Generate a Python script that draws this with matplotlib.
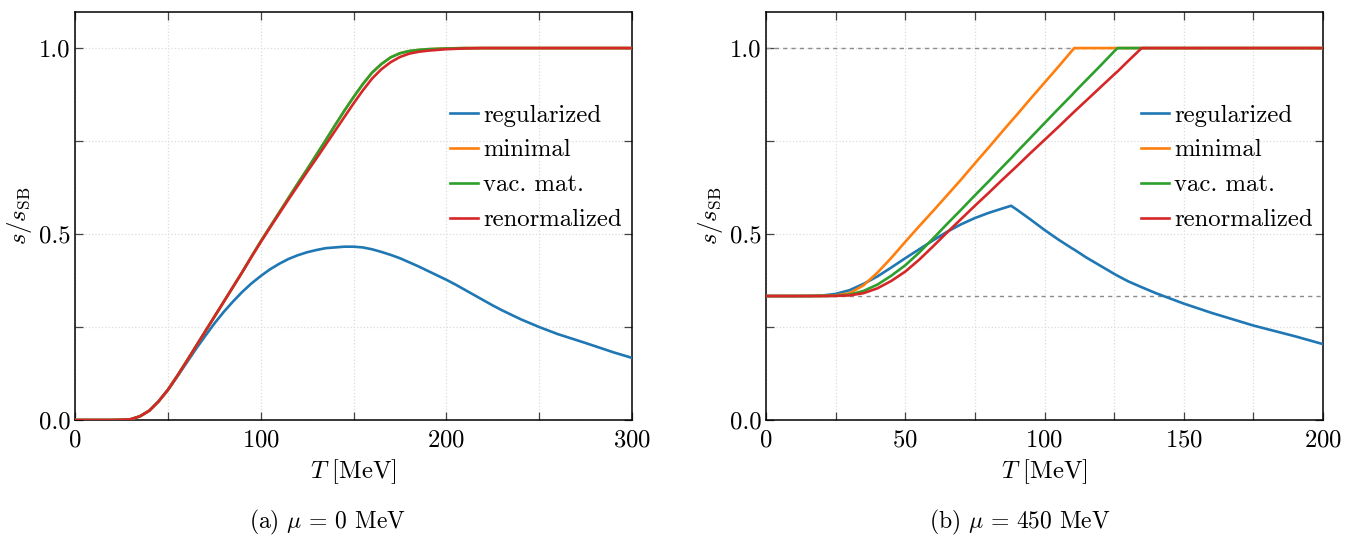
import matplotlib
matplotlib.use("Agg")
import matplotlib.pyplot as plt
from matplotlib.ticker import MultipleLocator, FormatStrFormatter

plt.rcParams['font.family'] = 'serif'
plt.rcParams['font.serif'] = ['cmr10']
plt.rcParams['mathtext.fontset'] = 'cm'
plt.rcParams['axes.formatter.use_mathtext'] = True
plt.rcParams['axes.unicode_minus'] = False

labels = ['regularized', 'minimal', 'vac. mat.', 'renormalized']
colors = ['#1f77b4', '#ff7f0e', '#2ca02c', '#d62728']

# (a) mu = 0 MeV
T_a = [0, 10, 20,
       25, 30, 35, 40, 45, 50, 55, 60, 65, 70, 75, 80, 85, 90, 95, 100,
       105, 110, 115, 120, 125, 130, 135, 140, 145, 150, 155, 160, 165, 170,
       175, 180, 185, 190, 195, 200, 205, 210, 215, 220, 225, 230,
       240, 250, 260, 275, 290, 300]
reg_a = [0, 0, 0,
         0.0005, 0.002, 0.01, 0.025, 0.05, 0.08, 0.116, 0.153, 0.19, 0.225,
         0.259, 0.290, 0.318, 0.344, 0.367, 0.387,
         0.405, 0.420, 0.433, 0.443, 0.451, 0.457, 0.462, 0.464, 0.466, 0.466,
         0.464, 0.459, 0.452, 0.444,
         0.435, 0.424, 0.413, 0.401, 0.389, 0.377, 0.364, 0.350, 0.336, 0.322,
         0.308, 0.295,
         0.271, 0.250, 0.231, 0.207, 0.182, 0.167]
vac_a = [0, 0, 0,
         0.0005, 0.002, 0.01, 0.025, 0.05, 0.081, 0.118, 0.157, 0.197, 0.237,
         0.277, 0.317, 0.357, 0.397, 0.439, 0.480,
         0.519, 0.558, 0.597, 0.636, 0.674, 0.713, 0.752, 0.792, 0.831, 0.868,
         0.903, 0.934, 0.957, 0.975,
         0.986, 0.992, 0.995, 0.997, 0.998, 0.999, 0.9995, 1.0, 1.0, 1.0,
         1.0, 1.0,
         1.0, 1.0, 1.0, 1.0, 1.0, 1.0]
min_a = list(vac_a)
ren_a = [0, 0, 0,
         0.0005, 0.002, 0.01, 0.025, 0.05, 0.081, 0.118, 0.157, 0.197, 0.237,
         0.277, 0.317, 0.357, 0.397, 0.438, 0.478,
         0.517, 0.555, 0.593, 0.630, 0.667, 0.703, 0.740, 0.777, 0.814, 0.851,
         0.886, 0.918, 0.943, 0.962,
         0.976, 0.985, 0.990, 0.993, 0.995, 0.997, 0.998, 0.999, 0.9995, 1.0,
         1.0, 1.0,
         1.0, 1.0, 1.0, 1.0, 1.0, 1.0]

# (b) mu = 450 MeV
T_b = [0, 10, 15, 20, 25, 30, 35, 40, 45, 50, 55, 60, 65, 70, 75, 80, 85, 88,
       90, 95, 100, 105, 110, 110.7, 115, 120, 125, 126.2, 130, 134.9, 140,
       150, 160, 175, 190, 200]
reg_b = [0.3333, 0.3333, 0.3336, 0.3345, 0.339, 0.349, 0.366, 0.386, 0.41,
         0.435, 0.459, 0.483, 0.506, 0.526, 0.543, 0.557, 0.569, 0.576, 0.566,
         0.539, 0.511, 0.485, 0.461, 0.458, 0.437, 0.415, 0.393, 0.388, 0.373,
         0.357, 0.341, 0.313, 0.288, 0.254, 0.225, 0.204]
min_b = [0.3333, 0.3333, 0.3334, 0.3337, 0.335, 0.341, 0.362, 0.396, 0.436,
         0.479, 0.521, 0.562, 0.604, 0.646, 0.690, 0.733, 0.777, 0.803, 0.820,
         0.864, 0.907, 0.950, 0.994, 1.0, 1.0, 1.0, 1.0, 1.0, 1.0, 1.0, 1.0,
         1.0, 1.0, 1.0, 1.0, 1.0]
vac_b = [0.3333, 0.3333, 0.3333, 0.3334, 0.334, 0.337, 0.347, 0.364, 0.388,
         0.416, 0.450, 0.488, 0.527, 0.565, 0.604, 0.642, 0.681, 0.704, 0.720,
         0.759, 0.798, 0.837, 0.875, 0.881, 0.914, 0.952, 0.991, 1.0, 1.0, 1.0,
         1.0, 1.0, 1.0, 1.0, 1.0, 1.0]
ren_b = [0.3333, 0.3333, 0.3333, 0.3333, 0.3337, 0.335, 0.341, 0.354, 0.374,
         0.399, 0.431, 0.467, 0.504, 0.540, 0.576, 0.611, 0.647, 0.668, 0.682,
         0.718, 0.753, 0.788, 0.824, 0.829, 0.859, 0.894, 0.929, 0.937, 0.965,
         1.0, 1.0, 1.0, 1.0, 1.0, 1.0, 1.0]
ref_levels_b = [1.0, 1.0 / 3.0]

W, H = 1356, 536
fig = plt.figure(figsize=(W / 100, H / 100), dpi=100)
ax_a = fig.add_axes([75 / W, 1 - 420 / H, 557 / W, 408 / H])
ax_b = fig.add_axes([766 / W, 1 - 420 / H, 557 / W, 408 / H])

fs = 17.8


def style(ax, xmax, xmajor, xminor):
    ax.set_xlim(0, xmax)
    ax.set_ylim(0, 1.097)
    ax.xaxis.set_major_locator(MultipleLocator(xmajor))
    ax.xaxis.set_minor_locator(MultipleLocator(xminor))
    ax.yaxis.set_major_locator(MultipleLocator(0.5))
    ax.yaxis.set_minor_locator(MultipleLocator(0.25))
    ax.yaxis.set_major_formatter(FormatStrFormatter('%.1f'))
    ax.grid(True, which='both', linestyle=':', color='#dcdcdc', linewidth=0.9)
    ax.set_axisbelow(True)
    ax.tick_params(which='both', direction='in', top=True, right=True,
                   length=6, width=0.9, color='#444444', labelsize=fs)
    ax.tick_params(axis='x', pad=7)
    ax.tick_params(axis='y', pad=3)
    for sp in ax.spines.values():
        sp.set_linewidth(1.1)
    ax.set_xlabel(r'$T\ $[MeV]', fontsize=fs, labelpad=4)
    ax.set_ylabel(r'$s/s_{\mathrm{SB}}$', fontsize=fs, labelpad=4)


for lvl in ref_levels_b:
    ax_b.axhline(lvl, color='#8c8c8c', linestyle='--', linewidth=1.0,
                 dashes=(3, 3), zorder=1.5)

series_a = [reg_a, min_a, vac_a, ren_a]
series_b = [reg_b, min_b, vac_b, ren_b]
for ys, lab, c in zip(series_a, labels, colors):
    ax_a.plot(T_a, ys, color=c, linewidth=1.9, label=lab, zorder=3)
for ys, lab, c in zip(series_b, labels, colors):
    ax_b.plot(T_b, ys, color=c, linewidth=1.9, label=lab, zorder=3)

style(ax_a, 300, 100, 50)
style(ax_b, 200, 50, 25)

for ax in (ax_a, ax_b):
    ax.legend(loc='upper left', bbox_to_anchor=(0.673, 0.774), frameon=False,
              fontsize=fs, borderpad=0, borderaxespad=0, handlelength=1.15,
              handletextpad=0.2, labelspacing=0.51)

fig.text(327 / W, 1 - 522 / H, r'(a) $\mu\,=\,0$ MeV', ha='center',
         va='center', fontsize=17)
fig.text(1020 / W, 1 - 522 / H, r'(b) $\mu\,=\,450$ MeV', ha='center',
         va='center', fontsize=17)

fig.savefig('out.png', dpi=100)
